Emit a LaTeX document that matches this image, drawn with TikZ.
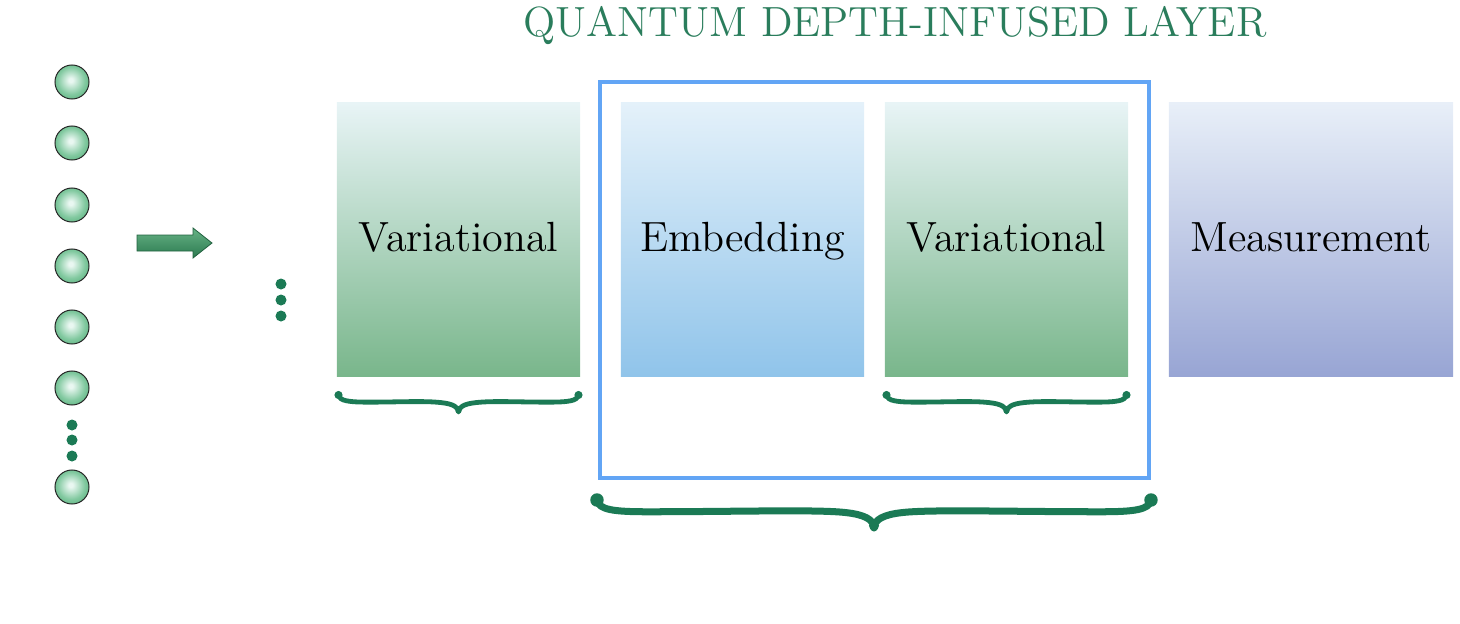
\documentclass[tikz,border=0pt]{standalone}
\definecolor{qgreen}{HTML}{1B7A55}
\definecolor{qtitle}{HTML}{2A7D5C}
\definecolor{ballin}{HTML}{E9F7F1}
\definecolor{ballmid}{HTML}{82C9A0}
\definecolor{ballout}{HTML}{3A9F62}
\definecolor{gtop}{HTML}{E8F4F6}
\definecolor{gbot}{HTML}{79B68B}
\definecolor{btop}{HTML}{E4F1FA}
\definecolor{bbot}{HTML}{90C4EA}
\definecolor{mtop}{HTML}{E8EFF8}
\definecolor{mbot}{HTML}{98A5D4}
\definecolor{framec}{HTML}{62A5F5}
\definecolor{arrtop}{HTML}{66B285}
\definecolor{arrbot}{HTML}{2C7A50}
\pgfdeclareradialshading{qball}{\pgfpoint{-2bp}{3bp}}{color(0bp)=(ballin); color(3bp)=(ballin); color(20bp)=(ballmid); color(40bp)=(ballout); color(60bp)=(ballout)}
\tikzset{
  pics/qbrace/.style 2 args={code={
    \draw[line cap=round, line join=round]
      (-#1,0) .. controls ({-#1+0.05*#2},{0.35*#2}) and ({-#1+0.6*#2},{0.42*#2}) .. ({-#1+1.8*#2},{0.42*#2})
      .. controls ({-0.5*#1},{0.42*#2}) and ({-2*#2},{0.33*#2}) .. ({-1*#2},{0.45*#2})
      .. controls ({-0.35*#2},{0.52*#2}) and (0,{0.7*#2}) .. (0,#2)
      .. controls (0,{0.7*#2}) and ({0.35*#2},{0.52*#2}) .. ({1*#2},{0.45*#2})
      .. controls ({2*#2},{0.33*#2}) and ({0.5*#1},{0.42*#2}) .. ({#1-1.8*#2},{0.42*#2})
      .. controls ({#1-0.6*#2},{0.42*#2}) and ({#1-0.05*#2},{0.35*#2}) .. (#1,0);
    \fill (-#1,0) circle[radius={0.24*#2}];
    \fill (#1,0) circle[radius={0.24*#2}];
    \fill (0,{0.92*#2}) circle[radius={0.18*#2}];
  }}
}
\begin{document}
\begin{tikzpicture}[x=0.01cm,y=-0.01cm,
  qubit/.style={circle, draw=black!85, line width=0.1mm, minimum size=0.34cm, inner sep=0pt, shade, shading=qball},
  qdot/.style={circle, fill=qgreen, minimum size=0.11cm, inner sep=0pt},
  blockbox/.style={rectangle, inner sep=0pt, minimum height=2.73cm, text height=7.1pt, text depth=0pt, font=\large},
  vari/.style={blockbox, minimum width=2.43cm, top color=gtop, bottom color=gbot},
  embed/.style={blockbox, minimum width=2.43cm, top color=btop, bottom color=bbot},
  meas/.style={blockbox, minimum width=2.84cm, top color=mtop, bottom color=mbot},
  qframe/.style={draw=framec, line width=0.4mm, inner sep=0pt, minimum width=5.49cm, minimum height=3.96cm},
  smallbrace/.style={color=qgreen, line width=0.48mm},
  bigbrace/.style={color=qgreen, line width=0.7mm},
  titlelbl/.style={text=qtitle, font=\large, anchor=base, inner sep=0pt},
  bigarrow/.style={draw=arrbot!80!black, line width=0.08mm, top color=arrtop, bottom color=arrbot}
]
\useasboundingbox (0,0) rectangle (1460,624);
% title
\node[titlelbl] (title) at (895,36) {QUANTUM DEPTH-INFUSED LAYER};
% qubits
\node[qubit] (q1) at (72,82) {};
\node[qubit] (q2) at (72,143) {};
\node[qubit] (q3) at (72,205) {};
\node[qubit] (q4) at (72,266) {};
\node[qubit] (q5) at (72,327) {};
\node[qubit] (q6) at (72,388) {};
\node[qdot] (ld1) at (72,425) {};
\node[qdot] (ld2) at (72,440) {};
\node[qdot] (ld3) at (72,456) {};
\node[qubit] (q7) at (72,487) {};
% arrow
\path[bigarrow] (137,235) -- (193,235) -- (193,228) -- (212,243) -- (193,258) -- (193,251) -- (137,251) -- cycle;
% middle dots
\node[qdot] (md1) at (281,284) {};
\node[qdot] (md2) at (281,300) {};
\node[qdot] (md3) at (281,316) {};
% frame
\node[qframe] (frame) at (874.5,280) {};
% blocks
\node[vari] (v1) at (458.5,239.5) {Variational};
\node[embed] (emb) at (742.5,239.5) {Embedding};
\node[vari] (v2) at (1006.5,239.5) {Variational};
\node[meas] (meas) at (1311,239.5) {Measurement};
% braces
\begin{scope}[smallbrace]
  \pic at (458.5,395) {qbrace={120}{17}};
  \pic at (1006.5,395) {qbrace={120}{17}};
\end{scope}
\begin{scope}[bigbrace]
  \pic at (874,500) {qbrace={277}{28}};
\end{scope}
\end{tikzpicture}
\end{document}
